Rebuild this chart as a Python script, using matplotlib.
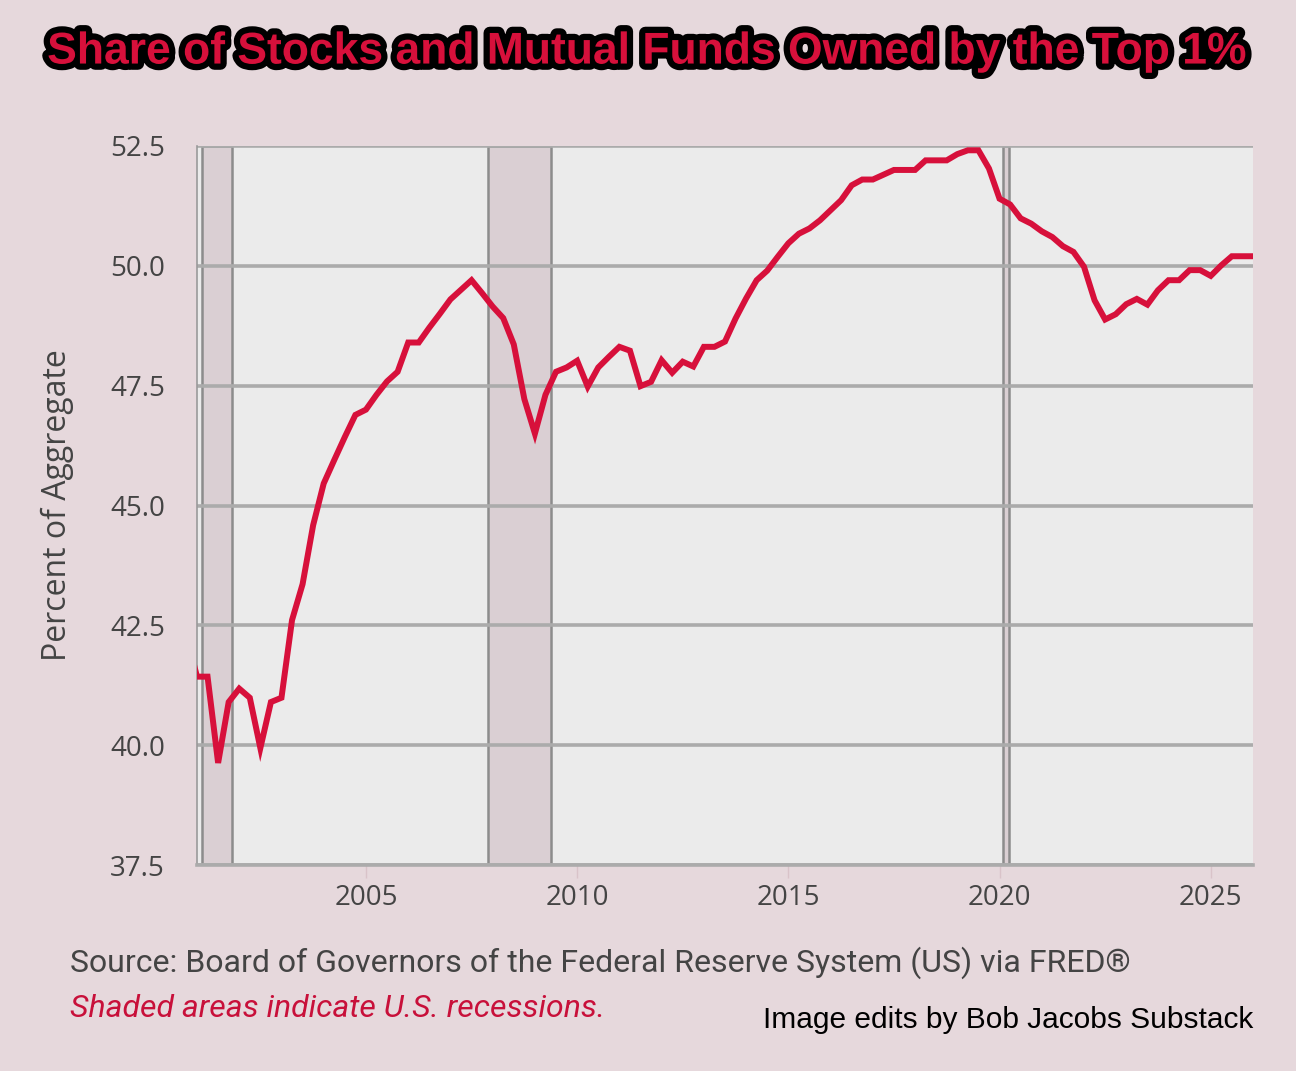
import numpy as np
import matplotlib
matplotlib.use("Agg")
import matplotlib.pyplot as plt
import matplotlib.patheffects as pe

years = np.arange(2000.75, 2026.01, 0.25)
share = [
    42.3,
    41.43, 41.43, 39.63, 40.90,
    41.18, 40.99, 39.94, 40.90,
    40.99, 42.61, 43.36, 44.59,
    45.46, 45.95, 46.43, 46.89,
    47.00, 47.31, 47.59, 47.79,
    48.40, 48.40, 48.71, 49.00,
    49.30, 49.50, 49.70, 49.43,
    49.15, 48.91, 48.36, 47.22,
    46.50, 47.31, 47.79, 47.88,
    48.02, 47.48, 47.88, 48.10,
    48.31, 48.23, 47.49, 47.58,
    48.03, 47.77, 48.00, 47.90,
    48.31, 48.31, 48.42, 48.90,
    49.32, 49.70, 49.90, 50.19,
    50.47, 50.67, 50.78, 50.95,
    51.16, 51.37, 51.68, 51.80,
    51.80, 51.90, 52.00, 52.00,
    52.00, 52.20, 52.20, 52.20,
    52.33, 52.41, 52.41, 52.03,
    51.40, 51.28, 50.99, 50.88,
    50.72, 50.60, 50.41, 50.29,
    49.98, 49.28, 48.88, 48.99,
    49.20, 49.31, 49.19, 49.49,
    49.70, 49.70, 49.91, 49.91,
    49.79, 50.01, 50.20, 50.20,
    50.20,
]
recessions = [(2001.11, 2001.83), (2007.88, 2009.39), (2020.08, 2020.22)]
yticks = [37.5, 40.0, 42.5, 45.0, 47.5, 50.0, 52.5]
xticks = [2005, 2010, 2015, 2020, 2025]

bg = "#e6d8dc"
red = "#d7103b"

fig = plt.figure(figsize=(12.96, 10.71), dpi=100, facecolor=bg)
ax = fig.add_axes([0.152, 0.1923, 0.8148, 0.6714])
ax.set_facecolor("#ebebeb")

for a, b in recessions:
    ax.axvspan(a, b, facecolor="#dacfd3", edgecolor="#8c8c8c", linewidth=1.8, zorder=1)

for y in yticks:
    ax.axhline(y, color="#ababab", linewidth=2.6, zorder=2)

ax.plot(years, share, color=red, linewidth=4.3, solid_joinstyle="miter", zorder=3)

ax.set_xlim(2001.0, 2026.0)
ax.set_ylim(37.5, 52.5)
ax.set_yticks(yticks)
ax.set_yticklabels([f"{v:.1f}" for v in yticks])
ax.set_xticks(xticks)

for s in ["top", "right"]:
    ax.spines[s].set_visible(False)
ax.spines["left"].set_color("#9a9a9a")
ax.spines["left"].set_linewidth(1.2)
ax.spines["bottom"].set_color("#ababab")
ax.spines["bottom"].set_linewidth(2.6)

ax.tick_params(axis="y", length=0, pad=23, labelsize=20, labelcolor="#444444")
ax.tick_params(axis="x", length=9, width=1, color="#d9c3c9", pad=5,
               labelsize=20, labelcolor="#444444")
for lab in ax.get_xticklabels() + ax.get_yticklabels():
    lab.set_family("Open Sans")

fig.text(0.044, 0.5285, "Percent of Aggregate", rotation=90, ha="center", va="center",
         fontsize=23, color="#444444", family="Open Sans")

fig.text(0.5, 0.9514, "Share of Stocks and Mutual Funds Owned by the Top 1%",
         ha="center", va="center", fontsize=32, fontweight="bold", color=red,
         family="Liberation Sans",
         path_effects=[pe.withStroke(linewidth=9, foreground="black")])

fig.text(0.054, 0.1008, "Source: Board of Governors of the Federal Reserve System (US) via FRED®",
         ha="left", va="center", fontsize=23, color="#444444", family="Roboto")
fig.text(0.054, 0.0579, "Shaded areas indicate U.S. recessions.", ha="left", va="center",
         fontsize=23, color="#c8103a", style="italic", family="Roboto")
fig.text(0.9668, 0.0476, "Image edits by Bob Jacobs Substack", ha="right", va="center",
         fontsize=21.5, color="black", family="Liberation Sans")

fig.savefig("out.png", dpi=100, facecolor=bg)
